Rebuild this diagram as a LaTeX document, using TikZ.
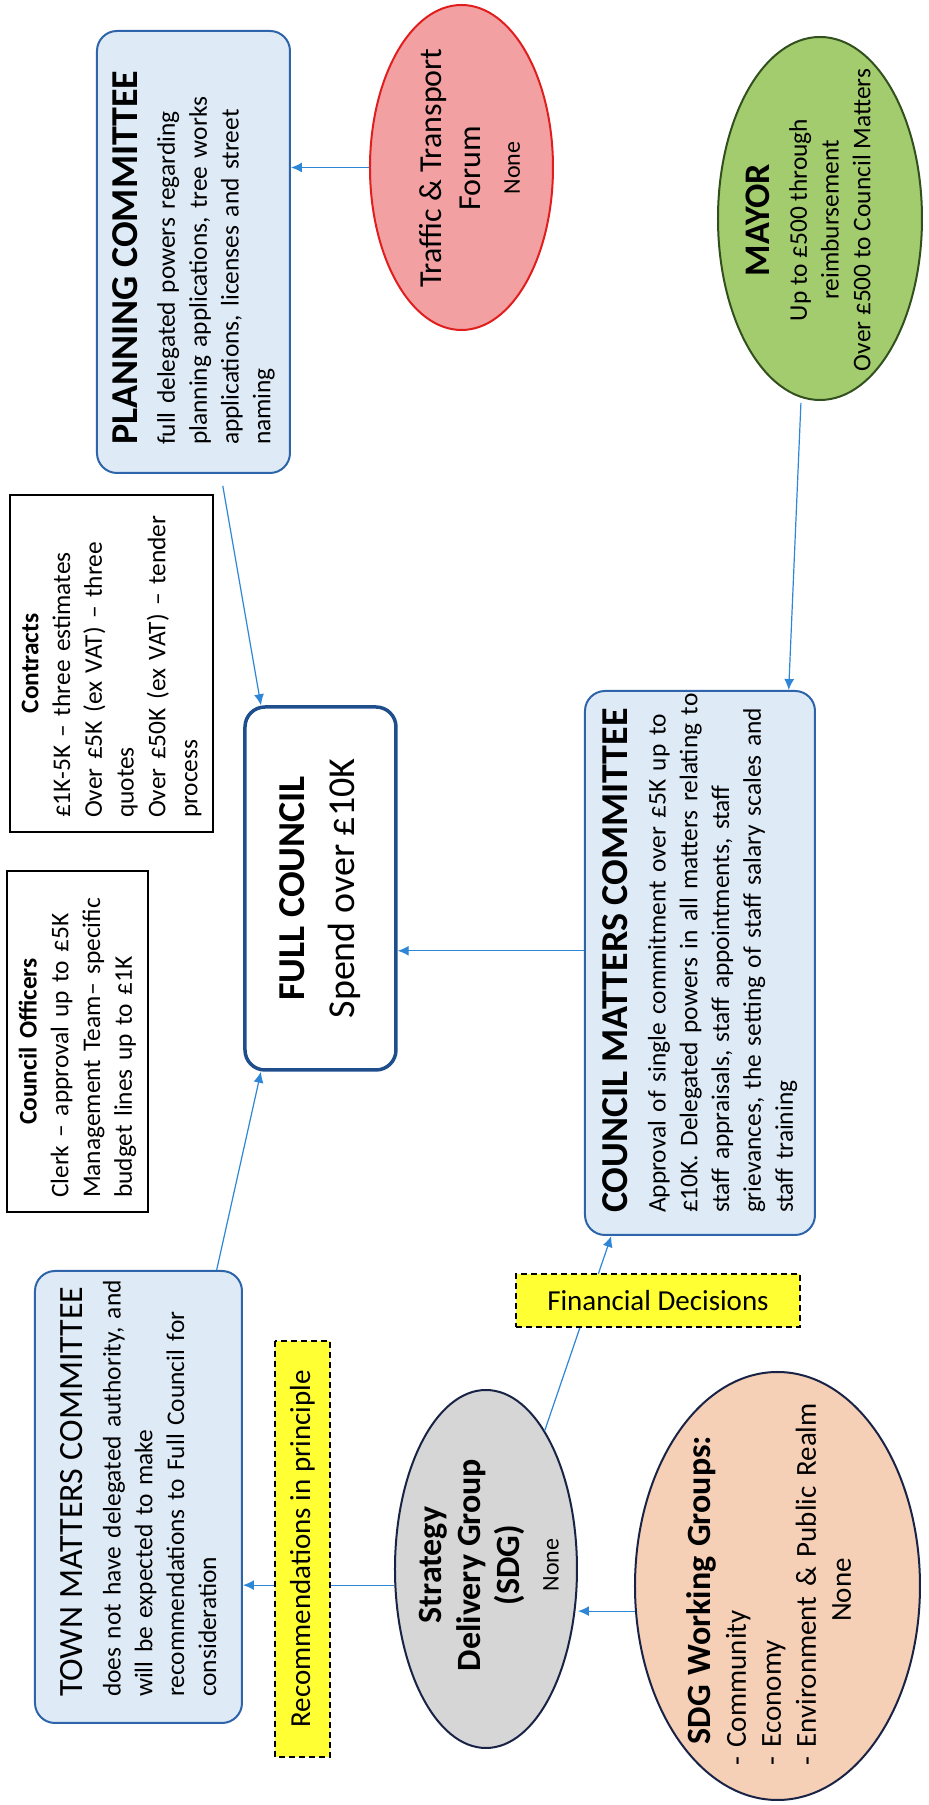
\documentclass[tikz,border=0pt]{standalone}
\usepackage{fontspec}
\setmainfont{Carlito}
\usetikzlibrary{shapes.geometric,arrows.meta}
\definecolor{boxfill}{RGB}{222,235,247}
\definecolor{boxedge}{RGB}{46,100,170}
\definecolor{fcedge}{RGB}{31,78,140}
\definecolor{linkblue}{RGB}{46,134,214}
\definecolor{trafficred}{RGB}{242,160,162}
\definecolor{trafficedge}{RGB}{225,30,30}
\definecolor{mayorgreen}{RGB}{163,204,110}
\definecolor{mayoredge}{RGB}{50,80,30}
\definecolor{sdggrey}{RGB}{214,214,214}
\definecolor{sdgpeach}{RGB}{246,208,182}
\definecolor{ovaledge}{RGB}{25,35,70}
\definecolor{notefill}{RGB}{255,255,51}
\newcommand{\hdf}{\fontsize{19}{22}\selectfont\bfseries}
\newcommand{\bdf}{\fontsize{12.7}{15.9}\selectfont}
% let a long line run into the right margin instead of breaking
\newcommand{\overrun}{\rightskip=-40pt plus 1fil\relax}

\begin{document}
\begin{tikzpicture}[x=0.5pt,y=0.5pt,rotate=90,transform shape,
  combox/.style={draw=boxedge,fill=boxfill,line width=1pt,rounded corners=10pt,align=left,font=\bdf,inner ysep=0pt},
  plainbox/.style={draw=black,fill=white,line width=0.75pt,align=left,font=\bdf,inner ysep=0pt},
  ovalnode/.style={ellipse,draw=ovaledge,line width=1pt,inner sep=0pt},
  notebox/.style={draw=black,fill=notefill,line width=0.8pt,dash pattern=on 3pt off 2pt,font=\fontsize{14.5}{17}\selectfont,inner sep=0pt},
  arrowlink/.style={draw=linkblue,line width=0.6pt,-{Latex[length=5.5pt,width=5pt]}}]

% page, turned on its side (one unit = one pixel)
\fill[white] (0,0) rectangle (1805,929);
\useasboundingbox (0,0) rectangle (1805,929);

\node[combox,minimum height=96.5pt,text width=193pt,inner xsep=14pt] (planning) at (1553,735.5)
  {\overrun{\hdf PLANNING COMMITTEE}\\[3pt]full delegated powers regarding\\planning applications, tree works\\applications, licenses and street\\naming};
\node[combox,draw=fcedge,fill=white,line width=1.75pt,align=center,font=\fontsize{19}{25}\selectfont,minimum width=181.5pt,minimum height=75.5pt] (fc) at (916.5,608.5)
  {\textbf{FULL COUNCIL}\\Spend over £10K};
\node[plainbox,text width=154.5pt,inner xsep=7pt,minimum height=101.5pt] (contracts) at (1141.5,817.5)
  {\overrun\makebox[\hsize]{\bfseries Contracts}\\£1K-5K – three estimates\\Over £5K (ex VAT) – three\\quotes\\Over £50K (ex VAT) – tender\\process};
\node[plainbox,text width=156.5pt,inner xsep=7pt,minimum height=70.5pt] (officers) at (763.5,851.5)
  {\overrun\makebox[\hsize]{\bfseries Council Officers}\\Clerk – approval up to £5K\\Management Team– specific\\budget lines up to £1K};
\node[combox,minimum height=115pt,text width=250pt,inner xsep=11pt] (cmc) at (842,229)
  {\overrun{\hdf COUNCIL MATTERS COMMITTEE}\\[3pt]Approval of single commitment over £5K up to\\£10K. Delegated powers in all matters relating to\\staff appraisals, staff appointments, staff\\grievances, the setting of staff salary scales and\\staff training};
\node[combox,minimum height=103.5pt,text width=200pt,inner xsep=13pt] (town) at (308,790.5)
  {\overrun{\fontsize{17}{20}\selectfont TOWN MATTERS COMMITTEE}\\[3pt]does not have delegated authority, and\\will be expected to make\\recommendations to Full Council for\\consideration};

\node[ovalnode,draw=trafficedge,fill=trafficred,minimum width=162.5pt,minimum height=91.5pt] (traffic) at (1637.5,467.5) {};
\node[align=center,font=\fontsize{16}{19.5}\selectfont] (traffictext) at (1637,459)
  {Traffic \& Transport\\Forum\\{\fontsize{12}{14}\selectfont None}};
\node[ovalnode,draw=mayoredge,fill=mayorgreen,minimum width=181.5pt,minimum height=102pt] (mayor) at (1586.5,109) {};
\node[align=center,font=\bdf] (mayortext) at (1585,121)
  {{\fontsize{18}{20}\selectfont\bfseries MAYOR}\\[3pt]Up to £500 through\\reimbursement\\Over £500 to Council Matters};
\node[ovalnode,fill=sdggrey,minimum width=179pt,minimum height=91pt] (strategy) at (236,443) {};
\node[align=center,font=\fontsize{17}{19.5}\selectfont\bfseries] (strategytext) at (240,440)
  {Strategy\\Delivery Group\\(SDG)\\{\mdseries\fontsize{12}{14}\selectfont None}};
\node[ovalnode,fill=sdgpeach,minimum width=214pt,minimum height=142.5pt] (sdg) at (219,151.5) {};
\node[align=left,text width=176pt,inner sep=0pt,font=\fontsize{14.5}{17.5}\selectfont] (sdgtext) at (215,160)
  {\overrun\makebox[\hsize]{\fontsize{17}{19}\selectfont\bfseries SDG Working Groups:}\\- Community\\- Economy\\- Environment \& Public Realm\\\makebox[\hsize]{None}};

\draw[arrowlink] (traffic.north) -- (traffic.north |- planning.south);
\draw[arrowlink,shorten <=6pt] (planning.187) -- (fc.18);
\draw[arrowlink] (cmc.84) -- (cmc.84 |- fc.south);
\draw[arrowlink] (town.-19) -- (fc.162);
\draw[arrowlink,shorten <=2.5pt] (mayor.174) -- (cmc.-18);
\draw[arrowlink] (strategy.100) -- (strategy.100 |- town.south);
\draw[arrowlink] (strategy.-23) -- (cmc.162);
\draw[arrowlink] (sdg.100) -- (sdg.100 |- strategy.south);

\node[notebox,minimum width=208pt,minimum height=27.5pt] (recs) at (256,626.5) {Recommendations in principle};
\node[notebox,rotate=-90,minimum width=142pt,minimum height=26.5pt] (findec) at (504.5,271) {Financial Decisions};
\end{tikzpicture}
\end{document}
